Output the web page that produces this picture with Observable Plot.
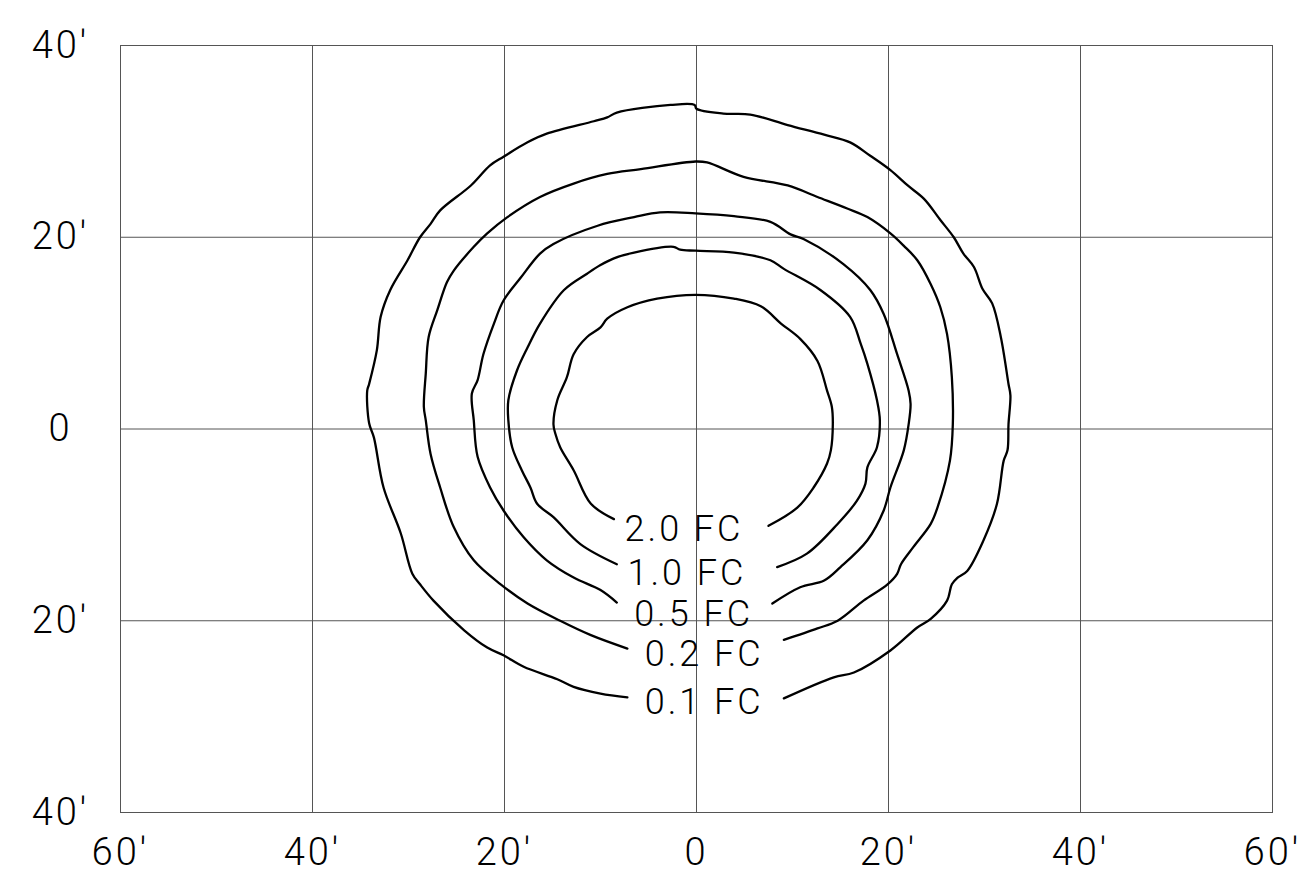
<!DOCTYPE html>
<html>
<head>
<meta charset="utf-8">
<script src="https://cdn.jsdelivr.net/npm/d3@7"></script>
<script src="https://cdn.jsdelivr.net/npm/@observablehq/plot@0.6"></script>
<style>
  html, body { margin: 0; padding: 0; background: #fff; }
  #chart svg text { letter-spacing: 3px; font-weight: 300; }
</style>
</head>
<body>
<div id="chart"></div>
<script>
// Grid / tick values (feet)
const xTicks = [-60, -40, -20, 0, 20, 40, 60];
const yTicks = [-40, -20, 0, 20, 40];

// Contour levels and label positions (feet)
const levels = ["0.1 FC", "0.2 FC", "0.5 FC", "1.0 FC", "2.0 FC"];
const labelX = [0.8, 0.8, -0.3, -1.0, -1.3];
const labelY = [-28.5, -23.5, -19.3, -15.1, -10.5];

// Isofootcandle contour points [x ft, y ft]
const fc01 = [[-7.2,-28.0],[-10.0,-27.6],[-12.8,-26.9],[-14.5,-26.1],[-18.0,-24.8],[-20.1,-23.6],[-21.8,-22.8],[-24.2,-21.0],[-27.4,-17.9],[-28.8,-16.2],[-29.6,-15.1],[-30.8,-10.9],[-32.6,-6.1],[-33.6,-0.9],[-34.1,0.6],[-34.3,4.0],[-34.1,4.7],[-33.3,8.2],[-32.9,11.7],[-31.9,14.5],[-30.1,17.6],[-28.8,20.0],[-27.7,21.4],[-26.7,22.8],[-23.5,25.4],[-21.5,27.5],[-20.1,28.4],[-17.6,29.9],[-15.6,30.8],[-10.7,32.1],[-9.3,32.5],[-8.3,33.0],[-2.7,33.8],[-0.2,33.8],[0,33.4],[2.8,32.9],[5.6,32.8],[9.5,31.7],[13.3,30.7],[16.0,29.9],[18.1,28.5],[20.2,27.0],[22.0,25.4],[23.7,24.0],[25.4,21.8],[26.8,20.0],[27.8,18.3],[28.9,16.9],[29.8,14.6],[30.8,13.1],[31.7,9.6],[32.5,4.7],[32.7,3.5],[32.5,0.5],[32.4,-2.2],[32.0,-3.3],[31.3,-7.8],[29.9,-11.6],[28.2,-14.8],[27.2,-15.5],[26.6,-16.2],[26.1,-17.9],[24.4,-19.8],[23.0,-20.7],[20.2,-23.1],[16.4,-25.4],[14.3,-25.9],[9.1,-28.1]];
const fc02 = [[-7.2,-22.9],[-11.0,-21.5],[-14.2,-20.0],[-17.6,-18.2],[-20.4,-16.2],[-23.2,-13.7],[-25.3,-10.2],[-26.7,-6.1],[-27.7,-2.6],[-28.2,0.9],[-28.4,2.3],[-28.2,5.8],[-27.9,9.6],[-27.0,12.4],[-26.0,15.3],[-25.3,16.5],[-23.2,19.0],[-21.8,20.4],[-19.7,22.1],[-16.3,24.2],[-12.8,25.6],[-9.3,26.6],[-5.8,27.1],[-0.1,27.9],[1.1,27.8],[4.9,26.3],[9.5,25.4],[12.6,24.2],[15.7,23.0],[17.8,22.1],[20.2,20.4],[21.6,19.1],[23.0,17.6],[24.4,15.1],[25.4,12.7],[26.1,9.9],[26.6,5.4],[26.7,0.5],[26.4,-3.3],[25.1,-8.2],[24.4,-9.9],[22.6,-12.3],[21.3,-14.1],[20.9,-15.1],[19.9,-16.2],[17.4,-17.9],[14.7,-20.0],[12.6,-20.8],[9.1,-22.0]];
const fc05 = [[-8.3,-18.1],[-10.0,-16.8],[-12.8,-15.5],[-15.6,-13.7],[-18.0,-11.3],[-20.1,-8.5],[-21.5,-6.1],[-22.8,-2.9],[-23.2,0.9],[-23.4,3.7],[-22.8,5.1],[-22.2,7.8],[-21.1,11.0],[-20.1,13.4],[-18.3,15.8],[-16.3,18.3],[-14.9,19.3],[-10.3,21.2],[-6.5,22.1],[-3.8,22.6],[-0.1,22.5],[3.9,22.2],[7.7,21.6],[9.8,20.3],[11.2,19.8],[15.3,17.2],[18.1,14.5],[19.5,12.0],[20.9,7.8],[22.1,4.0],[22.3,2.6],[22.1,0.5],[21.6,-2.2],[20.2,-6.1],[19.5,-8.5],[17.8,-11.6],[15.0,-14.4],[13.3,-15.8],[10.8,-16.5],[7.9,-18.2]];
const fc10 = [[-8.3,-14.1],[-12.1,-12.0],[-14.9,-9.2],[-16.6,-7.8],[-17.3,-6.1],[-18.2,-4.3],[-19.2,-1.9],[-19.6,0.9],[-19.6,3.0],[-18.7,6.1],[-17.6,8.5],[-16.3,11.0],[-13.8,14.5],[-11.4,16.2],[-10.0,17.1],[-8.6,17.8],[-6.5,18.4],[-2.4,19.0],[-1.7,18.7],[-0.1,18.6],[3.9,18.4],[7.7,17.6],[9.1,16.7],[12.9,14.5],[16.0,11.7],[17.1,8.9],[17.8,6.8],[18.8,3.0],[19.1,0.9],[18.8,-1.9],[17.8,-4.0],[17.6,-5.7],[16.7,-7.5],[14.7,-9.9],[11.5,-13.0],[8.4,-14.4]];
const fc20 = [[-8.6,-9.4],[-11.0,-7.8],[-12.8,-4.3],[-14.2,-1.9],[-14.7,-0.5],[-14.9,0.5],[-14.5,3.0],[-13.5,5.4],[-12.8,7.8],[-11.4,9.6],[-10.0,10.6],[-9.3,11.5],[-7.2,12.7],[-4.1,13.6],[-0.1,14.0],[3.9,13.6],[6.7,12.8],[8.8,11.0],[10.8,9.4],[12.6,7.1],[13.6,4.0],[14.1,2.3],[14.2,0.5],[14.0,-2.2],[13.6,-3.6],[12.2,-6.1],[10.5,-8.2],[7.5,-10.1]];

const contours = [fc01, fc02, fc05, fc10, fc20];
const lineData = contours.flatMap((pts, i) => pts.map(([x, y]) => ({level: levels[i], x, y})));
const labelData = levels.map((t, i) => ({text: t, x: labelX[i], y: labelY[i]}));

const fmt = d => d === 0 ? "0" : Math.abs(d) + "\u2032";
const FONT = "Roboto, 'DejaVu Sans', sans-serif";
const FS = 38;
const LFS = 36;

const chart = Plot.plot({
  width: 1305,
  height: 887,
  marginLeft: 120,
  marginRight: 33,
  marginTop: 45,
  marginBottom: 75,
  style: {fontFamily: FONT, fontSize: FS + "px", background: "#fff", color: "#000"},
  x: {domain: [-60, 60]},
  y: {domain: [-40, 40]},
  marks: [
    Plot.ruleX(xTicks, {stroke: "#555", strokeWidth: 1}),
    Plot.ruleY(yTicks, {stroke: "#555", strokeWidth: 1}),
    Plot.frame({stroke: "#555", strokeWidth: 1}),
    Plot.axisX(xTicks, {tickFormat: fmt, tickSize: 0, tickPadding: 26, fontSize: FS, label: null, fill: "#000"}),
    Plot.axisY(yTicks, {tickFormat: fmt, tickSize: 0, tickPadding: 60, textAnchor: "middle", fontSize: FS, label: null, fill: "#000"}),
    Plot.line(lineData, {x: "x", y: "y", z: "level", stroke: "#000", strokeWidth: 2.3, curve: "catmull-rom"}),
    Plot.text(labelData, {x: "x", y: "y", text: "text", fontSize: LFS, fill: "#000", textAnchor: "middle"})
  ]
});
document.getElementById("chart").appendChild(chart);
</script>
</body>
</html>
